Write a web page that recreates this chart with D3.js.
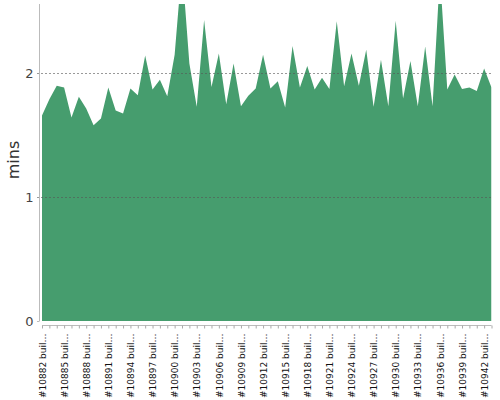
<!DOCTYPE html>
<html>
<head>
	<title>Build time</title>
	<script src="https://d3js.org/d3.v7.min.js"></script>
	<style type="text/css">
		body{ margin: 0; background: #fff; }
		text{ font-family: "DejaVu Sans", sans-serif; }
	</style>
</head>
<body>
<script type="text/javascript">
	// builds 10882 .. 10943
	var builds = [10882,10883,10884,10885,10886,10887,10888,10889,10890,10891,
		10892,10893,10894,10895,10896,10897,10898,10899,10900,10901,
		10902,10903,10904,10905,10906,10907,10908,10909,10910,10911,
		10912,10913,10914,10915,10916,10917,10918,10919,10920,10921,
		10922,10923,10924,10925,10926,10927,10928,10929,10930,10931,
		10932,10933,10934,10935,10936,10937,10938,10939,10940,10941,
		10942,10943]
	var mins = [1.66,1.79,1.90,1.885,1.644,1.81,1.716,1.58,1.636,1.885,
		1.70,1.676,1.877,1.823,2.145,1.869,1.949,1.815,2.15,2.87,
		2.08,1.73,2.43,1.89,2.16,1.75,2.08,1.735,1.82,1.877,
		2.15,1.877,1.936,1.724,2.22,1.885,2.06,1.87,1.965,1.874,
		2.42,1.896,2.16,1.90,2.19,1.73,2.11,1.735,2.425,1.797,
		2.10,1.735,2.217,1.735,2.8,1.87,1.99,1.874,1.885,1.858,
		2.04,1.885]
	var yTicks = [0,1,2]

	var W = 500, H = 400
	var pLeft = 42, pRight = 491.5, pTop = 4, pBottom = 321

	var svg = d3.select("body").append("svg").attr("width",W).attr("height",H)

	var x = d3.scalePoint().domain(builds).range([pLeft,pRight])
	var y = d3.scaleLinear().domain([0,2.56]).range([pBottom,pTop])

	svg.append("clipPath").attr("id","plot")
		.append("rect").attr("x",pLeft).attr("y",pTop).attr("width",pRight-pLeft).attr("height",pBottom-pTop)

	var area = d3.area()
		.x(function(d,i){ return x(builds[i]) })
		.y0(y(0))
		.y1(function(d){ return y(d) })

	svg.append("path").datum(mins)
		.attr("d",area)
		.attr("fill","#469d6e")
		.attr("clip-path","url(#plot)")

	// y axis + dotted grid
	var yAxis = svg.append("g").attr("transform","translate(39.5,0)")
		.call(d3.axisLeft(y).tickValues(yTicks).tickFormat(d3.format("d")).tickSize(0).tickPadding(6))
	yAxis.select(".domain").attr("stroke","#bbb").attr("d","M0," + pTop + "V" + pBottom)
	yAxis.selectAll("text").attr("font-size",13).attr("fill","#444")

	svg.append("g").selectAll("line").data(yTicks.filter(function(t){ return t > 0 })).enter()
		.append("line")
		.attr("x1",37).attr("x2",pRight)
		.attr("y1",function(d){ return Math.round(y(d)) + 0.5 })
		.attr("y2",function(d){ return Math.round(y(d)) + 0.5 })
		.attr("stroke","#555").attr("stroke-opacity",0.6)
		.attr("stroke-dasharray","2,2")
	svg.append("line").attr("x1",37).attr("x2",39.5).attr("y1",pBottom+0.5).attr("y2",pBottom+0.5).attr("stroke","#bbb")

	// x axis
	var xAxis = svg.append("g").attr("transform","translate(0,325.5)")
		.call(d3.axisBottom(x).tickSize(3).tickPadding(5)
			.tickFormat(function(d,i){ return i % 3 == 0 ? "#" + d + " buil\u2026" : "" }))
	xAxis.select(".domain").attr("stroke","#bbb").attr("d","M" + pLeft + ",0H" + pRight)
	xAxis.selectAll(".tick line").attr("stroke","#aaa")
	xAxis.selectAll("text")
		.attr("font-size",9).attr("fill","#111")
		.attr("text-anchor","end")
		.attr("transform","rotate(-90)")
		.attr("x",-8).attr("y",0).attr("dy","0.35em")

	svg.append("text").text("mins")
		.attr("transform","translate(19,160) rotate(-90)")
		.attr("text-anchor","middle")
		.attr("font-size",16).attr("fill","#333")
</script>
</body>
</html>
